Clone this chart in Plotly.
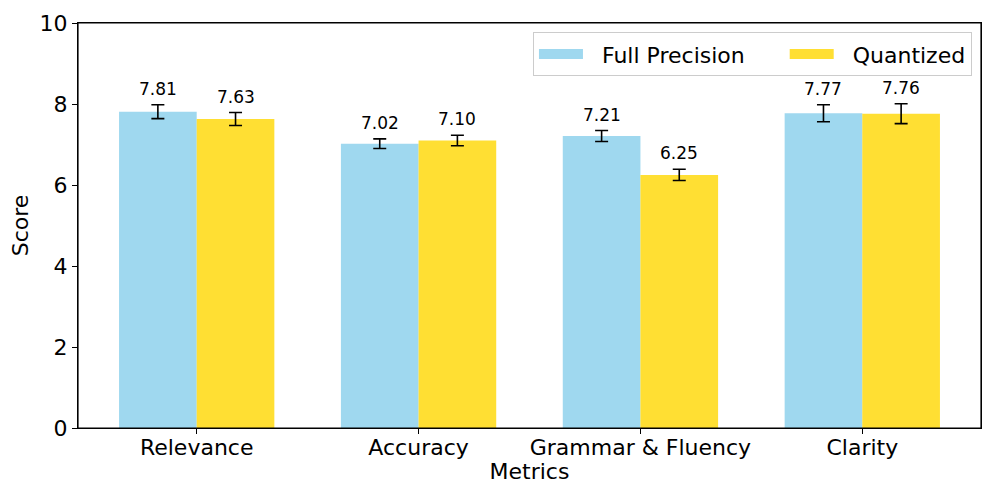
import plotly.graph_objects as go

categories = ["Relevance", "Accuracy", "Grammar & Fluency", "Clarity"]
full_precision = [7.81, 7.02, 7.21, 7.77]
full_precision_err = [0.17, 0.12, 0.135, 0.21]
quantized = [7.63, 7.10, 6.25, 7.76]
quantized_err = [0.16, 0.13, 0.14, 0.245]
y_ticks = [0, 2, 4, 6, 8, 10]

FONT = "DejaVu Sans"
BLUE = "rgba(135,206,235,0.8)"
GOLD = "rgba(255,215,0,0.8)"
NB = "\u00a0"
x = list(range(len(categories)))

fig = go.Figure()
fig.add_trace(go.Bar(
    x=x, y=full_precision, name="Full Precision", showlegend=False,
    marker=dict(color=BLUE, line=dict(width=0)),
    error_y=dict(type="data", array=full_precision_err, color="black", thickness=1.6, width=6.5),
    offsetgroup=0,
))
fig.add_trace(go.Bar(
    x=x, y=quantized, name="Quantized", showlegend=False,
    marker=dict(color=GOLD, line=dict(width=0)),
    error_y=dict(type="data", array=quantized_err, color="black", thickness=1.6, width=6.5),
    offsetgroup=1,
))
# legend proxies (wide swatches like the reference)
for name, col in [(NB * 2 + "Full Precision" + NB * 5, BLUE), (NB * 2 + "Quantized", GOLD)]:
    fig.add_trace(go.Scatter(x=[None], y=[None], mode="lines", name=name,
                             line=dict(color=col, width=15)))

for vals, errs, off in [(full_precision, full_precision_err, -0.175), (quantized, quantized_err, 0.175)]:
    for i, (v, e) in enumerate(zip(vals, errs)):
        fig.add_annotation(x=i + off, y=v + e, text=f"{v:.2f}", showarrow=False,
                           yanchor="bottom", yshift=4, font=dict(family=FONT, size=17, color="black"))

fig.add_shape(type="rect", xref="paper", yref="paper", x0=0, x1=1, y0=0, y1=1,
              line=dict(color="black", width=1.2), fillcolor="rgba(0,0,0,0)", layer="above")

# page has an 8px body margin, so the figure is sized to fit the 996x498 window
fig.update_layout(
    width=980, height=482,
    margin=dict(l=70, r=7, t=15, b=62),
    paper_bgcolor="white", plot_bgcolor="white",
    barmode="group", bargap=0.3, bargroupgap=0,
    font=dict(family=FONT, size=22, color="black"),
    showlegend=True,
    legend=dict(orientation="h", x=0.99, xanchor="right", y=0.977, yanchor="top",
                bordercolor="#cccccc", borderwidth=1, font=dict(size=22, family=FONT),
                itemwidth=44, bgcolor="rgba(255,255,255,0.8)"),
)
fig.update_xaxes(range=[-0.535, 3.535], tickvals=x, ticktext=categories, automargin=False,
                 showline=True, linecolor="black", linewidth=1.2, mirror=True,
                 ticks="outside", ticklen=5, tickcolor="black", showgrid=False,
                 ticklabelstandoff=-6,
                 title=dict(text="Metrics", standoff=3, font=dict(size=22)),
                 tickfont=dict(size=22))
fig.update_yaxes(range=[0, 10], tickvals=y_ticks, automargin=False,
                 showline=True, linecolor="black", linewidth=1.2, mirror=True,
                 ticks="outside", ticklen=5, tickcolor="black", showgrid=False, zeroline=False,
                 title=dict(text="Score", standoff=8, font=dict(size=22)),
                 tickfont=dict(size=22))

fig.write_html("out.html")
